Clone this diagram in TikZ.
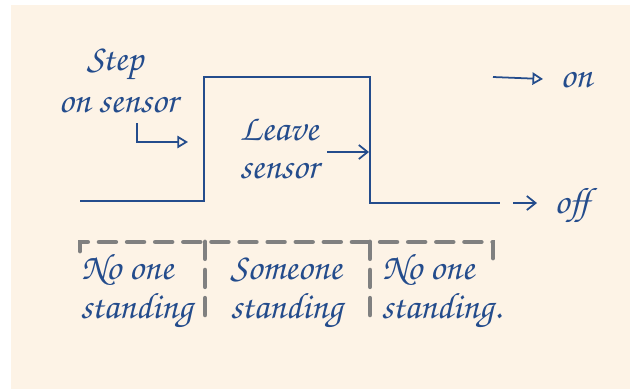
\documentclass[tikz,border=0pt]{standalone}
\usepackage{fontspec}
\setmainfont{TeX Gyre Chorus}
\usetikzlibrary{arrows.meta}
\definecolor{cream}{RGB}{253,243,230}
\definecolor{ink}{RGB}{36,76,140}
\definecolor{dashgray}{RGB}{128,128,128}
\tikzset{
  sig/.style={draw=ink, line width=1.3pt},
  lbl/.style={text=ink, font=\fontsize{21}{21}\selectfont, align=center, inner sep=0pt},
  openarr/.style={draw=ink, line width=1pt, -{Triangle[open,length=6pt,width=7pt]}},
  barbarr/.style={draw=ink, line width=1pt, -{Straight Barb[length=5pt,width=8pt]}},
  zone/.style={draw=dashgray, line width=2.7pt, dash pattern=on 9.5pt off 6.5pt, line cap=round}
}
\begin{document}
\begin{tikzpicture}[x=0.02cm,y=-0.02cm]
\useasboundingbox (0,0) rectangle (630,389);
\fill[white] (0,0) rectangle (630,389);
\fill[cream] (11,5) rectangle (630,389);
% signal
\coordinate (s0) at (80,201);
\coordinate (s1) at (204,201);
\coordinate (s2) at (204,77);
\coordinate (s3) at (370,77);
\coordinate (s4) at (370,203);
\coordinate (s5) at (500,203);
\draw[sig] (s0) -- (s1) -- (s2) -- (s3) -- (s4) -- (s5);
% labels
\node[lbl] (step) at (115,64) {Step};
\node[lbl] (onsensor) at (118,105) {on sensor};
\coordinate (a0) at (137,123);
\coordinate (a1) at (137,142);
\coordinate (a2) at (188,142);
\draw[openarr] (a0) -- (a1) -- (a2);
\node[lbl] (leave) at (279,130) {Leave};
\node[lbl] (sensor) at (279,171) {sensor};
\coordinate (b0) at (327,152);
\coordinate (b1) at (369,152);
\draw[barbarr] (b0) -- (b1);
% on/off
\coordinate (c0) at (493,77);
\coordinate (c1) at (543,79);
\draw[openarr] (c0) -- (c1);
\node[lbl, anchor=west] (on) at (560,80) {on};
\coordinate (d0) at (513,203);
\coordinate (d1) at (537,203);
\draw[barbarr] (d0) -- (d1);
\node[lbl, anchor=west] (off) at (554,205) {off};
% zones
\coordinate (z0) at (80,251);
\coordinate (z1) at (80,242);
\coordinate (z2) at (493,242);
\coordinate (z3) at (493,258);
\coordinate (m0) at (205,242);
\coordinate (m1) at (205,325);
\coordinate (n0) at (370,242);
\coordinate (n1) at (370,320);
\draw[zone] (z0) -- (z1) -- (z2) -- (z3);
\draw[zone] (m0) -- (m1);
\draw[zone] (n0) -- (n1);
\node[lbl, anchor=west] (no1) at (81,270) {No one};
\node[lbl, anchor=west] (st1) at (80,311) {standing};
\node[lbl, anchor=west] (so) at (230,270) {Someone};
\node[lbl, anchor=west] (st2) at (230,311) {standing};
\node[lbl, anchor=west] (no2) at (382,270) {No one};
\node[lbl, anchor=west] (st3) at (381,311) {standing.};
\end{tikzpicture}
\end{document}
